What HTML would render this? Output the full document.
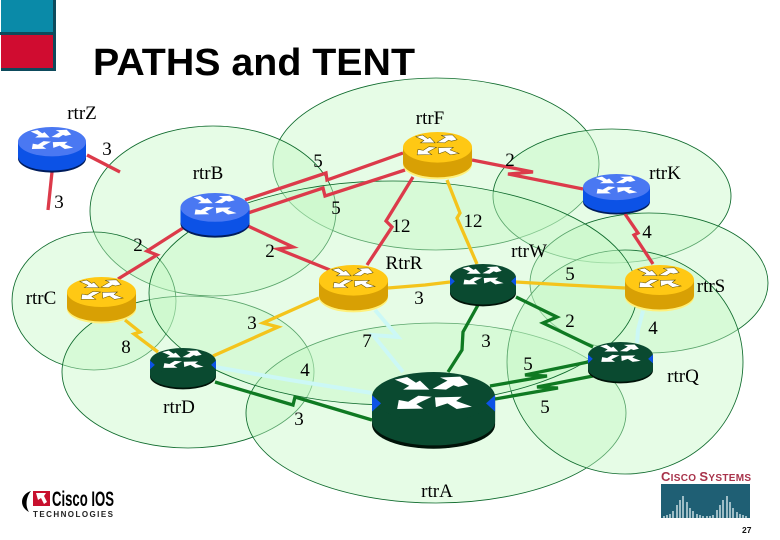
<!DOCTYPE html>
<html><head><meta charset="utf-8"><title>PATHS and TENT</title>
<style>
html,body{margin:0;padding:0;background:#fff;width:780px;height:540px;overflow:hidden}
svg{display:block}
.e{fill:#c4f8c4;fill-opacity:.42;stroke:#0e6a2c;stroke-width:.85}
.l{fill:none;stroke-width:3.300;stroke-linejoin:miter}
.red{stroke:#dc3a4a}.yel{stroke:#f4c41c}.grn{stroke:#0f7a22}.cy{stroke:#ccf8f6;stroke-width:4}
.t{font-family:"Liberation Serif",serif;font-size:19px;fill:#000;text-anchor:middle}
.blue{--top:#4a78f2;--side:#0c52e6;--base:#001c5c;--st:none}
.gold{--top:#ffc814;--side:#d8a004;--base:#fff07a;--st:#5a4a00}
.dark{--top:#0a4a30;--side:#0a4a30;--base:#001208;--st:none}
</style></head><body>
<svg width="780" height="540" viewBox="0 0 780 540" xmlns="http://www.w3.org/2000/svg">
<defs>
<g id="r">
<path d="M0,15V32A34,14.5 0 0 0 68,32V15Z" fill="var(--base)"/>
<path d="M0,15V30A34,14.5 0 0 0 68,30V15Z" fill="var(--side)"/>
<ellipse cx="34" cy="15" rx="34" ry="15" fill="var(--top)"/>
<g fill="#fff" stroke="var(--st)" stroke-width=".5">
<polygon points="12.6,4.6 19.4,3 24.3,6.5 26.5,5.2 31.7,10.7 17.2,10.7 20.6,8.3"/>
<polygon points="33.5,10.2 40.9,10.7 45,8 47.7,9 53.3,7.6 48.7,2.8 37.6,3.3 41.7,5.2"/>
<polygon points="13.9,22.4 14.8,17 20,18 25.6,14.4 33,15 24.5,19.5 28.3,22.2"/>
<polygon points="34.8,15.4 49.6,15 46.5,17.6 55.2,21 46.8,22.4 41.7,19 35.3,21.3"/>
</g>
</g>
<g id="tri"><polygon points="0,14 5,19 0,24" fill="#0c52e6"/><polygon points="68,14 63,19 68,24" fill="#0c52e6"/></g>
</defs>

<!-- corner squares -->
<rect x="1" y="0" width="55" height="71" fill="#0d4a5c"/>
<rect x="1" y="0" width="52" height="32" fill="#0a8aa8"/>
<rect x="1" y="35" width="52" height="33" fill="#d00c30"/>
<rect x="0" y="32" width="54" height="3" fill="#0d4a5c"/>

<text x="93" y="75" font-family="'Liberation Sans',sans-serif" font-weight="700" font-size="38" textLength="322" lengthAdjust="spacingAndGlyphs">PATHS and TENT</text>

<!-- areas -->
<ellipse class="e" cx="436" cy="164" rx="163" ry="86"/>
<ellipse class="e" cx="213" cy="211" rx="123" ry="85"/>
<ellipse class="e" cx="94" cy="301" rx="82" ry="69"/>
<ellipse class="e" cx="188" cy="372" rx="126" ry="76"/>
<ellipse class="e" cx="436" cy="413" rx="190" ry="90"/>
<ellipse class="e" cx="612" cy="196" rx="119" ry="67"/>
<ellipse class="e" cx="649" cy="283" rx="119" ry="70"/>
<ellipse class="e" cx="625" cy="362" rx="118" ry="112"/>
<ellipse class="e" cx="393" cy="293" rx="244" ry="112"/>

<!-- links -->
<polyline class="l cy" points="215,367 290,380 372,393"/>
<polyline class="l cy" points="375,310 398,337 373,335 403,372"/>
<polyline class="l cy" points="643,311 638,330 637,343"/>

<polyline class="l red" points="87,155 120,172"/>
<polyline class="l red" points="52,172 48,210"/>
<polyline class="l red" points="245,200 326,173 327,180 403,153"/>
<polyline class="l red" points="248,213 323,188 325,196 405,170"/>
<polyline class="l red" points="248,226 293,247 278,249 330,270"/>
<polyline class="l red" points="183,228 147,251 157,255 118,279"/>
<polyline class="l red" points="413,177 386,221 392,227 367,265"/>
<polyline class="l red" points="472,160 533,172 508,174 583,189"/>
<polyline class="l red" points="625,214 638,233 634,235 653,264"/>

<polyline class="l yel" points="447,180 460,213 457,218 477,264"/>
<polyline class="l yel" points="516,282 567,285 625,288"/>
<polyline class="l yel" points="450,282 425,285 388,288"/>
<polyline class="l yel" points="213,356 278,327 263,323 319,298"/>
<polyline class="l yel" points="125,320 140,332 134,334 158,352"/>

<polyline class="l grn" points="516,297 557,317 543,323 593,347"/>
<polyline class="l grn" points="478,305 463,332 462,350 448,372"/>
<polyline class="l grn" points="490,386 547,376 525,375 588,362"/>
<polyline class="l grn" points="495,399 558,388 537,387 593,376"/>
<polyline class="l grn" points="215,382 293,405 295,397 372,420"/>

<!-- routers -->
<use href="#r" class="blue" transform="translate(18,127) scale(1,.98)"/>
<use href="#r" class="blue" transform="translate(180.500,193) scale(1.015,.96)"/>
<use href="#r" class="blue" transform="translate(583,174) scale(.985,.87)"/>
<use href="#r" class="gold" transform="translate(403,132) scale(1.015,1.02)"/>
<use href="#r" class="gold" transform="translate(625,265) scale(1.015,1)"/>
<use href="#r" class="gold" transform="translate(67,277) scale(1.015,1)"/>
<use href="#r" class="gold" transform="translate(319,265) scale(1.015,1.02)"/>
<g transform="translate(450,264) scale(.97,.91)"><use href="#r" class="dark"/><use href="#tri"/></g>
<g transform="translate(150,348) scale(.97,.89)"><use href="#r" class="dark"/><use href="#tri"/></g>
<g transform="translate(588,342) scale(.955,.89)"><use href="#r" class="dark"/><use href="#tri"/></g>
<g transform="translate(372,372) scale(1.81,1.65)"><use href="#r" class="dark"/><use href="#tri"/></g>

<!-- labels -->
<text class="t" x="82" y="119">rtrZ</text>
<text class="t" x="107" y="155">3</text>
<text class="t" x="208" y="179">rtrB</text>
<text class="t" x="318" y="167">5</text>
<text class="t" x="59" y="208">3</text>
<text class="t" x="336" y="214">5</text>
<text class="t" x="138" y="251">2</text>
<text class="t" x="270" y="257">2</text>
<text class="t" x="430" y="124">rtrF</text>
<text class="t" x="510" y="166">2</text>
<text class="t" x="665" y="179">rtrK</text>
<text class="t" x="401" y="232">12</text>
<text class="t" x="473" y="227">12</text>
<text class="t" x="647" y="238">4</text>
<text class="t" x="529" y="257">rtrW</text>
<text class="t" x="404" y="269">RtrR</text>
<text class="t" x="570" y="280">5</text>
<text class="t" x="711" y="292">rtrS</text>
<text class="t" x="41" y="304">rtrC</text>
<text class="t" x="419" y="304">3</text>
<text class="t" x="252" y="329">3</text>
<text class="t" x="570" y="327">2</text>
<text class="t" x="653" y="334">4</text>
<text class="t" x="367" y="347">7</text>
<text class="t" x="486" y="347">3</text>
<text class="t" x="126" y="353">8</text>
<text class="t" x="305" y="376">4</text>
<text class="t" x="528" y="370">5</text>
<text class="t" x="683" y="382">rtrQ</text>
<text class="t" x="179" y="413">rtrD</text>
<text class="t" x="545" y="413">5</text>
<text class="t" x="299" y="425">3</text>
<text class="t" x="437" y="497">rtrA</text>

<!-- Cisco IOS logo -->
<path d="M31,491C21,494 18,506 29,512C25,506 26,497 31,491Z" fill="#000"/>
<rect x="33" y="491" width="17" height="15" fill="#c8102e"/>
<polygon points="36,493 46,493 44,496 47,502 44,504 41,498 38,500" fill="#fff"/>
<text x="52" y="506" font-family="'Liberation Sans',sans-serif" font-weight="700" font-size="21" textLength="62" lengthAdjust="spacingAndGlyphs">Cisco IOS</text>
<text x="33" y="517" font-family="'Liberation Sans',sans-serif" font-weight="700" font-size="8" textLength="80" fill="#222">TECHNOLOGIES</text>

<!-- Cisco Systems logo -->
<text x="661" y="481" font-family="'Liberation Sans',sans-serif" font-weight="700" font-size="10" fill="#a8324a" textLength="90"><tspan font-size="13">C</tspan>ISCO <tspan font-size="13">S</tspan>YSTEMS</text>
<rect x="661" y="484" width="89" height="34" fill="#1f5f74"/>
<g stroke="#e4f0f2" stroke-width="1.300">
<path d="M664,518v-2M667,518v-3M670,518v-4M673,518v-7M677,518v-13M680,518v-18M683,518v-22M687,518v-16M690,518v-10M693,518v-7M697,518v-4M700,518v-3M703,518v-2M707,518v-2M710,518v-2M713,518v-3M717,518v-8M720,518v-13M723,518v-18M727,518v-22M730,518v-16M733,518v-10M737,518v-6M740,518v-4M743,518v-3M746,518v-2"/>
</g>
<text x="742" y="533" font-family="'Liberation Sans',sans-serif" font-size="8.500" font-weight="700" fill="#111">27</text>
</svg>
</body></html>
